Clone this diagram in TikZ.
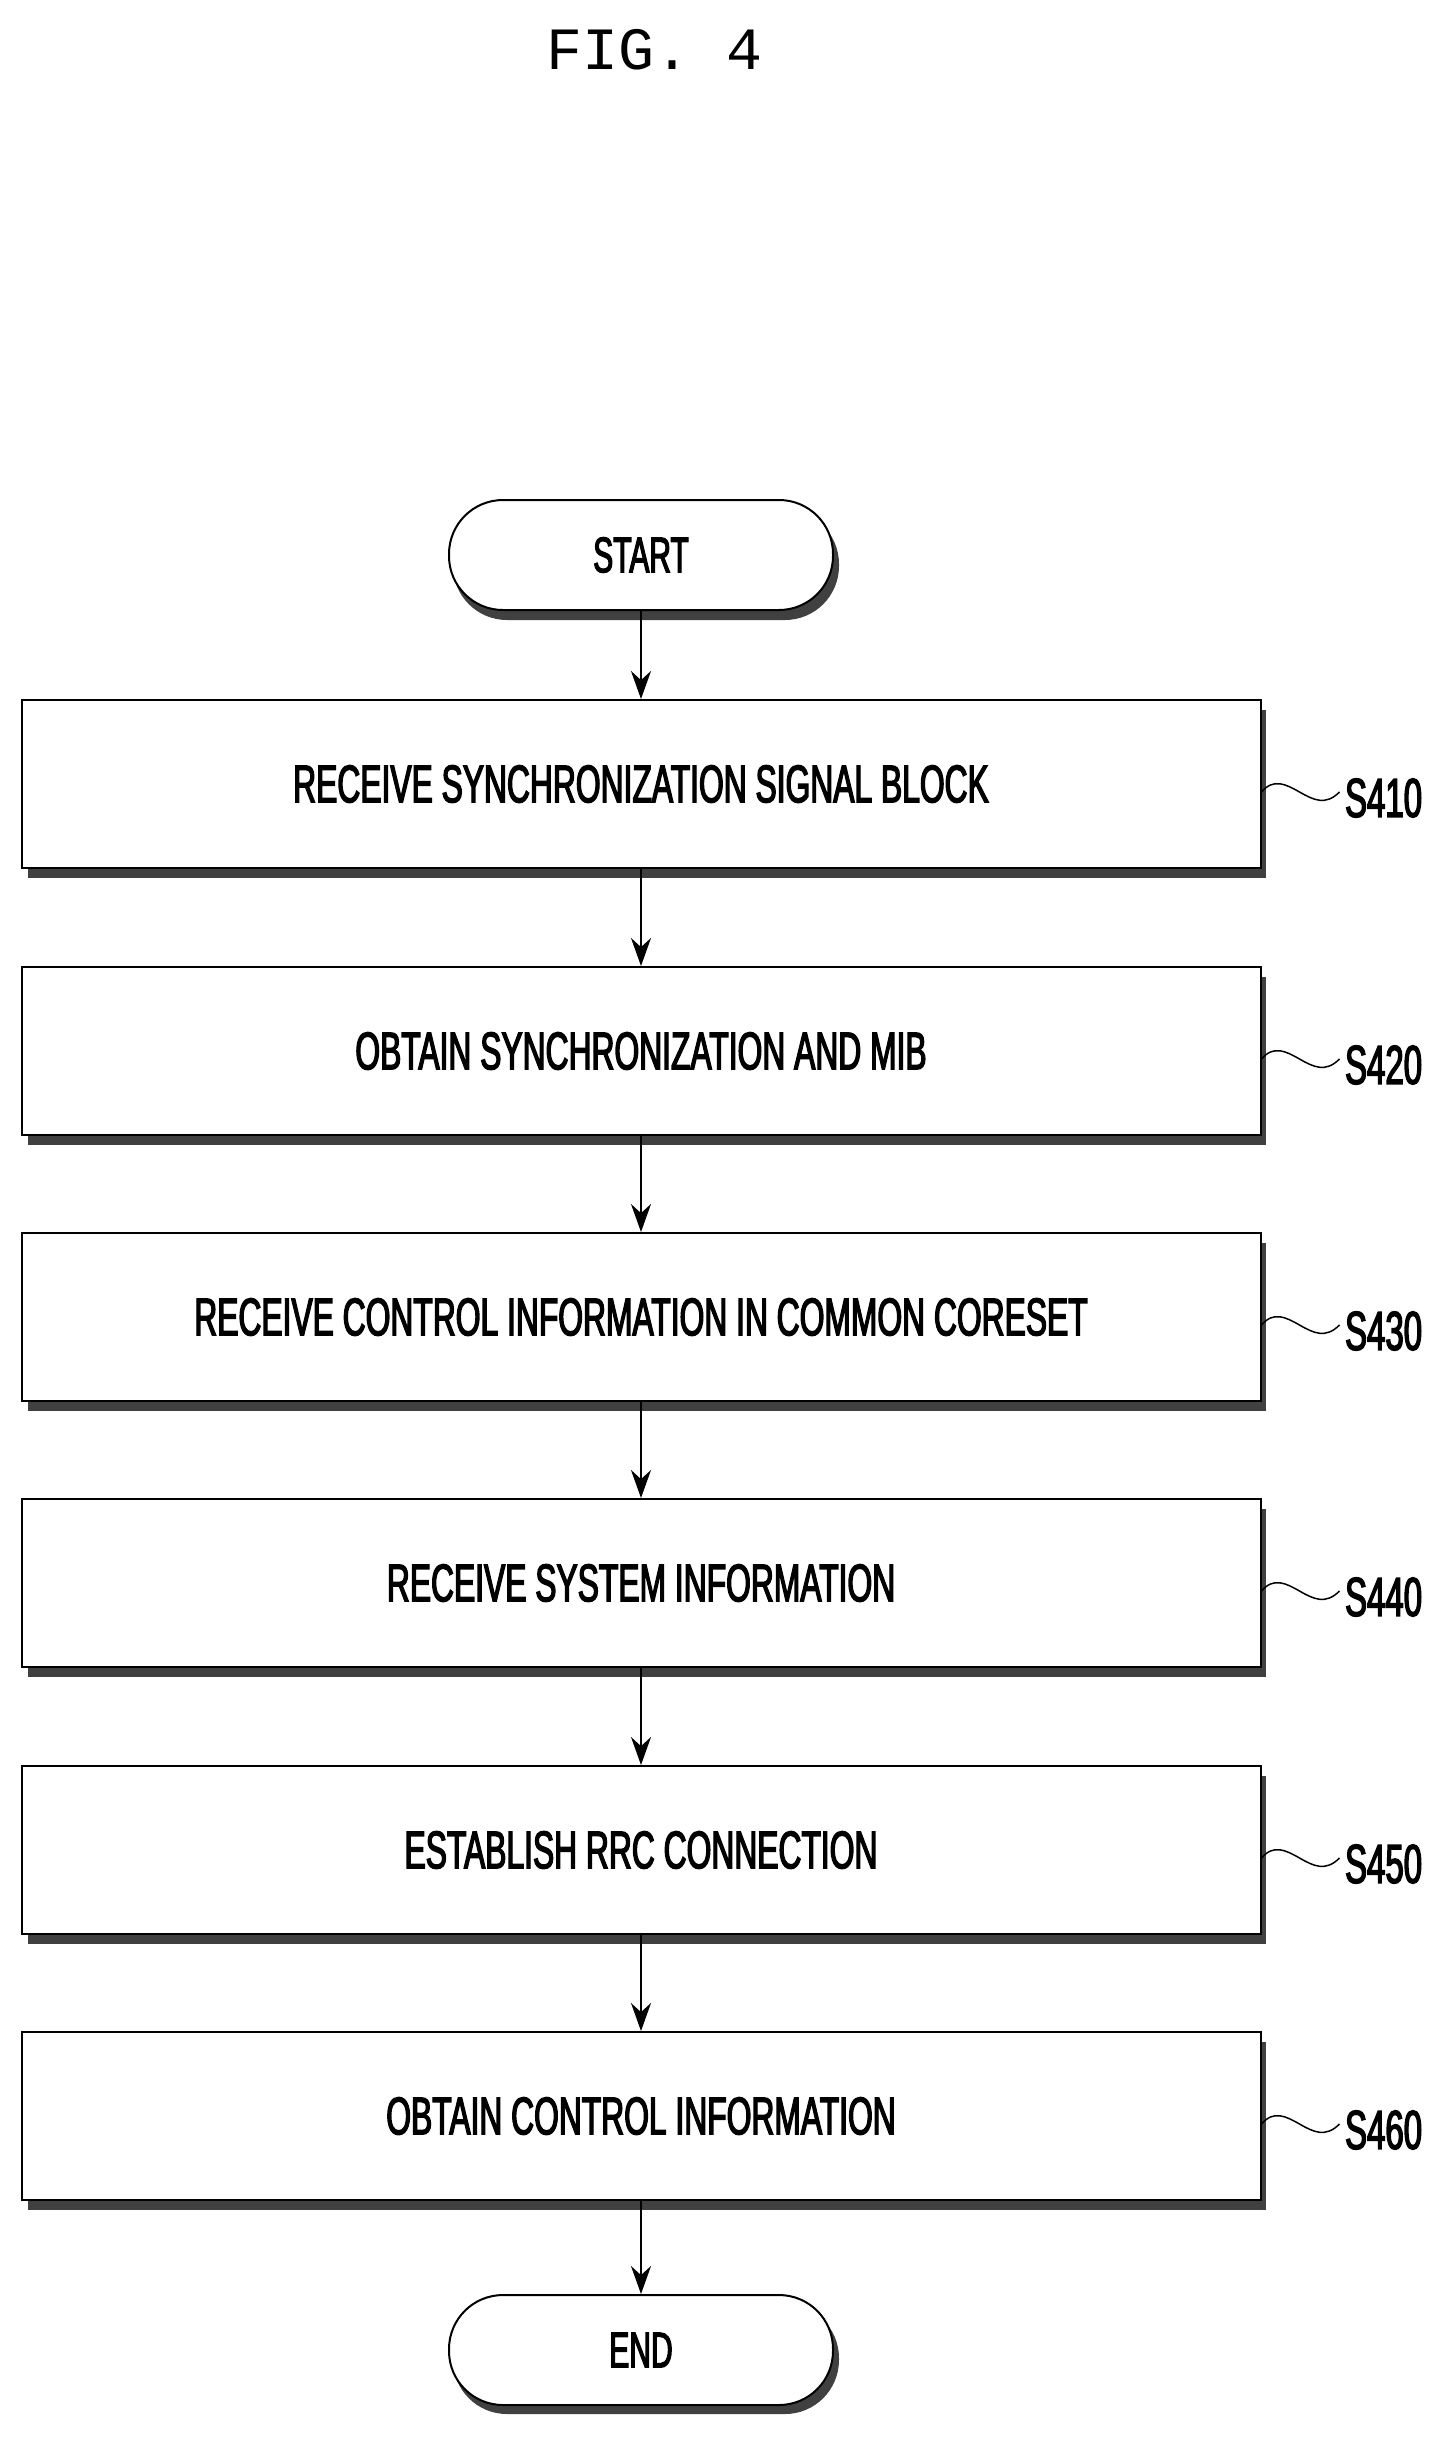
\documentclass[tikz,border=0pt]{standalone}
\usepackage{fontspec}
\setmainfont{Liberation Sans}
\newfontfamily\cond[FakeStretch=0.6,FakeBold=2.5]{Liberation Sans}
\newfontfamily\figf{Liberation Mono}
\usetikzlibrary{arrows.meta}
\begin{document}
\begin{tikzpicture}[x=1pt,y=-1pt,
  box/.style={draw,line width=2pt,fill=white,minimum width=1239pt,minimum height=168pt,font=\cond\fontsize{53}{57}\selectfont},
  term/.style={draw,line width=2pt,fill=white,rounded corners=54pt,minimum width=384pt,minimum height=110pt,font=\cond\fontsize{50}{54}\selectfont},
  arr/.style={line width=2pt,-{Stealth[length=28pt,width=20pt]}},
  lab/.style={font=\cond\fontsize{55}{59}\selectfont,anchor=west},
  sh/.style={fill=black!75}]
\useasboundingbox (0,0) rectangle (1448,2441);
\node[font=\figf\fontsize{60}{64}\selectfont] (title) at (655,50) {FIG. 4};
% start
\fill[sh,rounded corners=54pt] (453,510) rectangle (839,620);
\node[term] (start) at (641,555) {START};
\foreach \i/\y/\t/\s in {1/700/RECEIVE SYNCHRONIZATION SIGNAL BLOCK/S410,
  2/967/OBTAIN SYNCHRONIZATION AND MIB/S420,
  3/1233/RECEIVE CONTROL INFORMATION IN COMMON CORESET/S430,
  4/1499/RECEIVE SYSTEM INFORMATION/S440,
  5/1766/ESTABLISH RRC CONNECTION/S450,
  6/2032/OBTAIN CONTROL INFORMATION/S460}{
  \fill[sh] (28,\y+10) rectangle (1266,\y+178);
  \node[box] (b\i) at (641,\y+84) {\t};
  \coordinate (w\i) at ([yshift=-8pt]b\i.east);
  \draw[line width=1.5pt] (w\i) .. controls +(12,-14) and +(-14,-8) .. +(38,0) .. controls +(14,8) and +(-14,14) .. +(78,0);
  \node[lab] (l\i) at ([xshift=80pt,yshift=-14pt]b\i.east) {\s};
}
\fill[sh,rounded corners=54pt] (453,2304) rectangle (839,2414);
\node[term] (end) at (641,2350) {END};
\draw[arr] (start) -- (b1);
\draw[arr] (b1) -- (b2);
\draw[arr] (b2) -- (b3);
\draw[arr] (b3) -- (b4);
\draw[arr] (b4) -- (b5);
\draw[arr] (b5) -- (b6);
\draw[arr] (b6) -- (end);
\end{tikzpicture}
\end{document}
